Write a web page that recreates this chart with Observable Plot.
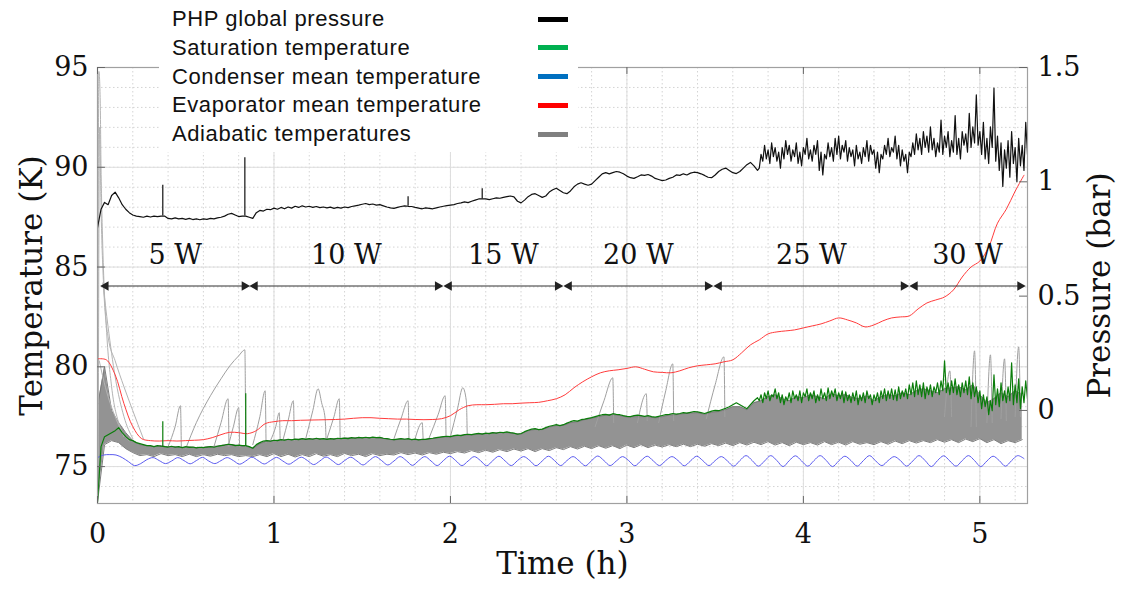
<!DOCTYPE html>
<html><head><meta charset="utf-8">
<script src="https://cdn.jsdelivr.net/npm/d3@7"></script>
<script src="https://cdn.jsdelivr.net/npm/@observablehq/plot@0.6"></script>
<style>
body{margin:0;background:#fff;}
#wrap{position:relative;width:1124px;height:596px;}
#legend{position:absolute;left:159px;top:0;width:419px;height:152px;background:#fff;font-family:"Liberation Sans",Arial,sans-serif;font-size:22px;letter-spacing:0.6px;color:#111;}
.row{position:absolute;left:13px;height:29px;line-height:29px;white-space:nowrap;}
.sw{position:absolute;left:379px;width:30px;height:5px;}
</style></head><body><div id="wrap"><div id="legend"></div></div>
<script>
// ---- ticks / axis values ----
const timeTicks = [0,1,2,3,4,5];
const tempTicks = [75,80,85,90,95];
const pressureTicks = [0,0.5,1,1.5];
const timeDomain = [0,5.27];
const tempDomain = [73.15,95];
const pressureDomain = [-0.407,1.5];

// ---- legend ----
const legendLabels = ["PHP global pressure","Saturation temperature","Condenser mean temperature","Evaporator mean temperature","Adiabatic temperatures"];
const legendColors = ["#000000","#00b050","#0070c0","#ff0000","#808080"];

// ---- power steps ----
const powerLabels = ["5 W","10 W","15 W","20 W","25 W","30 W"];
const powerStart = [0.03,0.875,1.975,2.655,3.505,4.615];
const powerEnd = [0.85,1.945,2.625,3.475,4.585,5.245];

// ---- PHP global pressure (bar): 0–3.74 h every 0.02 h ----
const coarseStep = 0.02;
const pressureBar = [
0.80,0.88,0.91,0.90,0.94,0.955,0.93,0.90,0.88,0.865,
0.855,0.85,0.848,0.845,0.85,0.846,0.85,0.848,0.85,0.85,
0.84,0.838,0.842,0.838,0.84,0.836,0.84,0.835,0.838,0.834,
0.838,0.836,0.84,0.838,0.842,0.845,0.85,0.858,0.862,0.855,
0.848,0.85,0.85,0.845,0.84,0.865,0.875,0.872,0.88,0.878,
0.885,0.88,0.888,0.882,0.89,0.885,0.893,0.888,0.895,0.89,
0.893,0.888,0.892,0.887,0.89,0.886,0.889,0.884,0.888,0.885,
0.89,0.887,0.892,0.895,0.898,0.902,0.905,0.9,0.903,0.898,
0.9,0.895,0.89,0.886,0.884,0.888,0.892,0.895,0.893,0.892,
0.888,0.885,0.882,0.886,0.884,0.882,0.886,0.89,0.893,0.896,
0.898,0.9,0.905,0.908,0.912,0.909,0.915,0.92,0.925,0.925,
0.925,0.922,0.926,0.93,0.928,0.932,0.935,0.938,0.934,0.915,
0.908,0.92,0.935,0.945,0.948,0.94,0.932,0.938,0.955,0.965,
0.972,0.962,0.952,0.948,0.96,0.978,0.99,0.996,0.99,0.985,
0.99,1.005,1.02,1.035,1.04,1.035,1.04,1.045,1.042,1.035,
1.025,1.018,1.015,1.022,1.03,1.028,1.032,1.025,1.015,1.01,
1.005,1.008,1.015,1.02,1.03,1.028,1.035,1.03,1.038,1.042,
1.04,1.035,1.028,1.02,1.018,1.03,1.045,1.055,1.06,1.05,
1.04,1.036,1.045,1.06,1.075,1.085,1.07,1.05];
// 3.75–5.27 h every 0.01 h (oscillating regime)
const fineStart = 3.75, fineStep = 0.01;
const pressureBarFine = [
1.06,1.12,1.09,1.16,1.10,1.14,1.08,1.17,1.11,1.15,
1.09,1.13,1.06,1.15,1.10,1.18,1.12,1.16,1.09,1.14,
1.11,1.17,1.08,1.13,1.07,1.15,1.12,1.19,1.10,1.14,
1.09,1.16,1.12,1.18,1.05,1.13,1.03,1.12,1.10,1.17,
1.11,1.15,1.09,1.19,1.12,1.20,1.10,1.16,1.13,1.18,
1.09,1.15,1.11,1.14,1.07,1.16,1.10,1.13,1.08,1.15,
1.11,1.18,1.09,1.16,1.12,1.14,1.06,1.13,1.04,1.12,
1.10,1.16,1.12,1.19,1.11,1.15,1.13,1.20,1.10,1.16,
1.07,1.14,1.09,1.12,1.04,1.13,1.11,1.17,1.12,1.21,
1.14,1.19,1.12,1.22,1.15,1.20,1.13,1.24,1.14,1.19,
1.11,1.17,1.13,1.27,1.12,1.20,1.15,1.22,1.11,1.18,
1.13,1.29,1.12,1.19,1.10,1.22,1.16,1.21,1.13,1.30,
1.15,1.24,1.17,1.38,1.16,1.22,1.12,1.26,1.10,1.19,
1.08,1.24,1.15,1.41,1.09,1.20,1.05,1.17,0.98,1.14,
1.06,1.18,1.02,1.22,1.08,1.15,1.00,1.19,1.07,1.16,
1.05,1.26,1.12];
// isolated pressure spikes [time h, base bar, peak bar]
const pressureSpikes = [[0.37,0.85,0.985],[0.835,0.85,1.105],[1.76,0.893,0.935],[2.18,0.925,0.97]];

// ---- Saturation temperature (K): 0–3.74 h every 0.02 h ----
const saturationT = [
73.2,76.0,76.5,76.6,76.7,76.8,76.95,76.7,76.5,76.35,
76.3,76.2,76.15,76.1,76.05,76.05,76.0,76.05,76.02,76.0,
75.98,76.02,75.97,76.0,75.95,76.0,75.96,75.98,75.94,75.97,
75.95,75.98,76.0,75.97,76.02,76.05,76.08,76.12,76.1,76.05,
76.08,76.05,76.05,76.0,75.92,76.1,76.2,76.28,76.3,76.27,
76.32,76.3,76.35,76.32,76.37,76.34,76.38,76.35,76.4,76.36,
76.4,76.37,76.42,76.38,76.4,76.36,76.4,76.38,76.42,76.4,
76.43,76.4,76.45,76.42,76.46,76.44,76.47,76.44,76.48,76.45,
76.46,76.42,76.4,76.37,76.35,76.38,76.4,76.37,76.4,76.35,
76.38,76.34,76.37,76.36,76.4,76.42,76.45,76.48,76.5,76.52,
76.5,76.55,76.58,76.55,76.6,76.62,76.6,76.64,76.66,76.63,
76.68,76.65,76.7,76.67,76.72,76.7,76.74,76.7,76.68,76.62,
76.66,76.75,76.82,76.88,76.9,76.85,76.88,76.95,77.02,77.06,
77.1,77.05,77.1,77.18,77.25,77.3,77.28,77.35,77.38,77.42,
77.45,77.5,77.55,77.6,77.62,77.58,77.65,77.62,77.6,77.55,
77.52,77.5,77.55,77.58,77.55,77.52,77.55,77.5,77.48,77.52,
77.56,77.6,77.62,77.66,77.63,77.66,77.7,77.68,77.72,77.76,
77.74,77.7,77.66,77.72,77.78,77.82,77.8,77.86,77.92,78.0,
78.1,78.2,78.1,78.0,77.9,78.1,78.3,78.45];
// 3.75–5.27 h every 0.01 h
const saturationTFine = [
78.3,78.6,78.2,78.7,78.4,78.8,78.3,78.6,78.5,78.9,
78.4,78.7,78.2,78.6,78.1,78.5,78.3,78.7,78.2,78.8,
78.4,78.6,78.3,78.8,78.2,78.7,78.5,78.9,78.3,78.7,
78.4,78.8,78.2,78.6,78.3,78.9,78.4,78.7,78.3,78.95,
78.4,78.8,78.5,78.9,78.3,78.7,78.4,78.8,78.2,78.75,
78.3,78.6,78.2,78.7,78.3,78.8,78.1,78.6,78.3,78.7,
78.2,78.8,78.4,78.6,78.1,78.6,78.3,78.7,78.2,78.8,
78.4,78.9,78.3,78.8,78.4,78.9,78.35,78.85,78.3,79.0,
78.4,78.8,78.5,78.9,78.4,79.1,78.6,79.2,78.5,79.3,
78.6,79.1,78.5,79.2,78.4,79.0,78.6,79.1,78.5,79.0,
78.7,79.2,78.6,79.3,78.8,80.3,78.7,79.2,78.6,79.3,
78.7,79.4,78.6,79.1,78.5,79.2,78.7,79.3,78.6,79.5,
78.4,79.2,78.5,79.0,78.2,78.8,77.9,78.6,78.0,78.5,
77.6,78.3,77.8,79.6,78.1,78.9,78.0,79.2,78.3,78.8,
78.2,79.0,78.3,80.2,78.1,79.1,78.2,79.4,77.9,79.0,
78.2,79.3,78.4];
const saturationSpikes = [[0.37,76.0,77.25],[0.84,76.05,78.65]];

// ---- Evaporator mean temperature (K), every 0.05 h ----
const evaporatorStep = 0.05;
const evaporatorT = [
80.4,80.35,79.6,78.15,77.0,76.4,76.3,76.28,76.3,76.28,
76.3,76.32,76.35,76.45,76.6,76.72,76.7,76.65,76.8,77.15,
77.25,77.3,77.3,77.32,77.33,77.34,77.35,77.36,77.38,77.42,
77.45,77.45,77.42,77.4,77.38,77.38,77.36,77.35,77.36,77.4,
77.55,77.85,78.05,78.1,78.1,78.12,78.15,78.15,78.18,78.2,
78.22,78.3,78.4,78.6,78.95,79.25,79.5,79.7,79.8,79.85,
79.92,80.0,79.88,79.75,79.72,79.7,79.8,79.95,80.05,80.1,
80.15,80.25,80.35,80.7,81.1,81.35,81.65,81.75,81.8,81.85,
81.95,82.05,82.15,82.3,82.45,82.35,82.2,82.0,82.1,82.3,
82.45,82.5,82.55,82.9,83.2,83.35,83.5,83.85,84.5,85.0,
85.3,86.0,87.2,87.9,88.8,89.6];

// ---- Condenser mean temperature (K), every 0.035 h ----
const condenserStep = 0.035;
const condenserT = [
75.45,75.58,75.6,75.58,75.45,75.25,75.05,75.15,75.35,75.45,
75.3,75.15,75.28,75.45, 75.3,75.14,75.3,75.46, 75.28,75.15,75.3,75.45,
75.3,75.12,75.28,75.47, 75.3,75.13,75.3,75.46, 75.28,75.12,75.3,75.47,
75.3,75.1,75.28,75.48, 75.3,75.1,75.3,75.47, 75.28,75.08,75.3,75.5,
75.3,75.08,75.28,75.5, 75.3,75.06,75.3,75.5, 75.28,75.05,75.3,75.52,
75.3,75.05,75.28,75.5, 75.3,75.04,75.3,75.52, 75.28,75.05,75.3,75.5,
75.3,75.04,75.28,75.52, 75.3,75.05,75.3,75.5, 75.28,75.04,75.3,75.53,
75.3,75.05,75.28,75.5, 75.3,75.04,75.3,75.52, 75.28,75.05,75.3,75.5,
75.3,75.04,75.28,75.52, 75.3,75.05,75.3,75.5, 75.28,75.02,75.3,75.55,
75.3,75.02,75.28,75.55, 75.3,75.0,75.3,75.54, 75.28,75.02,75.3,75.55,
75.3,75.0,75.28,75.52, 75.3,75.02,75.3,75.55, 75.28,75.05,75.3,75.5,
75.3,75.02,75.28,75.55, 75.3,75.0,75.3,75.54, 75.28,75.02,75.3,75.55,
75.3,75.0,75.28,75.52, 75.3,75.02,75.3,75.55, 75.4];

// ---- Adiabatic temperatures: envelope (K), every 0.04 h ----
const adiabaticStep = 0.04;
const adiabaticLow = [
73.2,76.1,76.3,76.2,75.9,75.7,75.55,75.6,75.5,75.65,
75.55,75.6,75.5,75.62,75.5,75.6,75.52,75.62,75.55,75.6,
75.5,75.55,75.5,75.6,75.5,75.65,75.5,75.62,75.48,75.6,
75.5,75.65,75.52,75.6,75.5,75.66,75.55,75.62,75.5,75.65,
75.55,75.62,75.58,75.7,75.6,75.68,75.58,75.7,75.62,75.72,
75.65,75.75,75.68,75.8,75.7,75.82,75.72,75.85,75.75,75.88,
75.78,75.9,75.75,75.9,75.8,75.95,75.85,76.0,75.88,76.02,
75.9,76.05,75.92,76.05,75.9,76.08,75.95,76.1,75.95,76.08,
75.98,76.1,76.0,76.12,76.0,76.12,76.02,76.15,76.05,76.18,
76.05,76.2,76.08,76.22,76.1,76.25,76.08,76.2,76.05,76.22,
76.1,76.2,76.08,76.25,76.1,76.22,76.08,76.25,76.12,76.2,
76.1,76.25,76.12,76.28,76.15,76.3,76.18,76.3,76.2,76.35,
76.22,76.35,76.2,76.38,76.25,76.4,76.2,76.35,76.15,76.3,
76.2,76.35];
const adiabaticHigh = [
78.0,80.0,77.8,77.2,76.7,76.3,76.1,76.05,76.0,76.05,
75.98,76.0,75.95,75.98,75.94,75.96,76.0,76.02,76.08,76.1,
76.05,76.02,75.92,76.15,76.28,76.3,76.33,76.35,76.36,76.38,
76.37,76.4,76.38,76.38,76.4,76.42,76.43,76.44,76.45,76.46,
76.44,76.38,76.33,76.38,76.36,76.35,76.34,76.38,76.43,76.48,
76.48,76.55,76.58,76.58,76.62,76.65,76.68,76.7,76.7,76.66,
76.62,76.8,76.86,76.85,76.98,77.05,77.06,77.2,77.25,77.35,
77.42,77.5,77.58,77.6,77.56,77.48,77.5,77.5,77.5,77.44,
77.5,77.58,77.6,77.65,77.68,77.7,77.62,77.72,77.76,77.85,
78.0,78.0,77.85,78.2,78.3,78.5,78.6,78.4,78.3,78.5,
78.45,78.6,78.5,78.4,78.65,78.55,78.6,78.45,78.4,78.55,
78.3,78.5,78.6,78.55,78.7,78.6,78.8,78.9,78.8,78.7,
78.9,78.95,79.0,78.85,79.1,78.6,78.2,78.4,78.7,78.5,
78.8,78.6];

// ---- Adiabatic temperature excursions [time h, K] ----
const adiabaticSpikes = [
 [[0.40,76.0],[0.44,77.0],[0.47,78.05],[0.475,76.0]],
 [[0.50,75.9],[0.56,77.2],[0.64,78.55],[0.70,79.4],[0.75,80.05],[0.80,80.55],[0.835,80.85],[0.84,76.0]],
 [[0.66,76.0],[0.70,77.2],[0.74,78.4],[0.745,76.0]],
 [[0.74,76.0],[0.77,77.0],[0.80,77.95],[0.805,76.0]],
 [[0.88,76.1],[0.92,77.5],[0.95,78.8],[0.955,76.2]],
 [[0.98,76.3],[1.01,77.0],[1.03,77.7],[1.035,76.3]],
 [[1.05,76.3],[1.08,77.3],[1.11,78.3],[1.115,76.3]],
 [[1.18,76.4],[1.22,77.8],[1.25,78.9],[1.27,78.2],[1.29,77.4],[1.295,76.4]],
 [[1.30,76.4],[1.34,77.5],[1.37,78.4],[1.375,76.4]],
 [[1.68,76.4],[1.72,77.4],[1.76,78.3],[1.765,76.4]],
 [[1.80,76.4],[1.84,77.2],[1.845,76.4]],
 [[1.88,76.45],[1.93,77.6],[1.97,78.55],[1.975,76.5]],
 [[2.0,76.5],[2.04,77.9],[2.07,78.95],[2.09,78.3],[2.095,76.6]],
 [[2.82,77.0],[2.87,78.3],[2.92,79.45],[2.925,77.2]],
 [[3.06,77.2],[3.11,78.65],[3.115,77.3]],
 [[3.18,77.2],[3.22,78.8],[3.26,80.15],[3.265,77.3]],
 [[3.45,77.4],[3.50,79.1],[3.55,80.5],[3.555,77.5]],
 [[4.80,77.5],[4.83,79.8],[4.84,77.5]],
 [[4.95,77.0],[4.97,80.8],[4.98,77.0]],
 [[5.04,77.2],[5.06,80.6],[5.07,77.2]],
 [[5.12,77.4],[5.14,80.4],[5.15,77.3]],
 [[5.20,77.5],[5.22,81.0],[5.23,77.5]]
];
const startTransients = [
 [[0.0,73.2],[0.008,94.8],[0.015,93.5],[0.02,90],[0.03,86],[0.05,82],[0.08,79],[0.12,77.2],[0.18,76.3]],
 [[0.004,75],[0.012,92],[0.02,88],[0.035,84],[0.06,81.5],[0.10,80.3],[0.15,79.0],[0.2,77.8],[0.26,76.4]],
 [[0.03,84.2],[0.06,82],[0.1,79.5],[0.15,77.5],[0.2,76.4]],
 [[0.01,80.3],[0.03,79.5],[0.06,78.5],[0.1,77.5],[0.15,76.5]]
];

// ---- build tables ----
const toT = p => tempDomain[0] + (p - pressureDomain[0]) * (tempDomain[1]-tempDomain[0]) / (pressureDomain[1]-pressureDomain[0]);
const fromT = T => pressureDomain[0] + (T - tempDomain[0]) * (pressureDomain[1]-pressureDomain[0]) / (tempDomain[1]-tempDomain[0]);
const pressureRows = pressureBar.map((p,i)=>({t:i*coarseStep, v:toT(p)}))
  .concat(pressureBarFine.map((p,i)=>({t:fineStart+i*fineStep, v:toT(p)})));
const saturationRows = saturationT.map((v,i)=>({t:i*coarseStep, v}))
  .concat(saturationTFine.map((v,i)=>({t:fineStart+i*fineStep, v})));
const pressureSpikeRows = pressureSpikes.map(([t,b,p])=>({t, b:toT(b), p:toT(p)}));
const saturationSpikeRows = saturationSpikes.map(([t,b,p])=>({t, b, p}));
const evaporatorRows = evaporatorT.map((v,i)=>({t:i*evaporatorStep, v}));
const condenserRows = condenserT.map((v,i)=>({t:i*condenserStep, v}));
const adiabaticRows = adiabaticLow.map((lo,i)=>({t:i*adiabaticStep, lo, hi:adiabaticHigh[i]}));
const spikeRows = adiabaticSpikes.flatMap((s,k)=>s.map(([t,v])=>({id:k,t,v})));
const transientRows = startTransients.flatMap((s,k)=>s.map(([t,v])=>({id:k,t,v})));
const powerRows = powerLabels.map((label,i)=>({label, a:powerStart[i], b:powerEnd[i], m:(powerStart[i]+powerEnd[i])/2}));
const arrowLevel = 84.05, labelLevel = 85.6;

const serif = '"DejaVu Serif", serif';
const chart = Plot.plot({
  width:1124, height:596,
  marginLeft:97, marginRight:97, marginTop:67, marginBottom:93,
  style:{fontFamily:serif, fontSize:"27px", color:"#111", background:"transparent"},
  x:{domain:timeDomain},
  y:{domain:tempDomain},
  marks:[
    Plot.gridX(d3.range(0.2,5.27,0.2), {stroke:"#d4d4d4", strokeOpacity:1, strokeDasharray:"1.5,2.5"}),
    Plot.gridY(d3.range(74,95,1), {stroke:"#d4d4d4", strokeOpacity:1, strokeDasharray:"1.5,2.5"}),
    Plot.gridX(timeTicks, {stroke:"#dedede", strokeOpacity:1}),
    Plot.gridY(tempTicks, {stroke:"#dedede", strokeOpacity:1}),
    // adiabatic envelope
    Plot.areaY(adiabaticRows, {x:"t", y1:"lo", y2:"hi", fill:"#939393", clip:true}),
    Plot.line(adiabaticRows, {x:"t", y:"lo", stroke:"#7d7d7d", strokeWidth:1, clip:true}),
    Plot.line(adiabaticRows, {x:"t", y:"hi", stroke:"#7d7d7d", strokeWidth:1, clip:true}),
    Plot.line(transientRows, {x:"t", y:"v", z:"id", stroke:"#b4b4b4", strokeWidth:1, curve:"monotone-x", clip:true}),
    Plot.line(spikeRows, {x:"t", y:"v", z:"id", stroke:"#a0a0a0", strokeWidth:1, curve:"monotone-x", clip:true}),
    // condenser
    Plot.line(condenserRows, {x:"t", y:"v", stroke:"#5b5bf0", strokeWidth:1, curve:"catmull-rom", clip:true}),
    // evaporator
    Plot.line(evaporatorRows, {x:"t", y:"v", stroke:"#ff3b3b", strokeWidth:1, curve:"catmull-rom", clip:true}),
    // saturation
    Plot.line(saturationRows, {x:"t", y:"v", stroke:"#0b7d0b", strokeWidth:1.2, clip:true}),
    Plot.ruleX(saturationSpikeRows, {x:"t", y1:"b", y2:"p", stroke:"#0b7d0b", strokeWidth:1.2}),
    // pressure
    Plot.line(pressureRows, {x:"t", y:"v", stroke:"#111", strokeWidth:1.2, clip:true}),
    Plot.ruleX(pressureSpikeRows, {x:"t", y1:"b", y2:"p", stroke:"#111", strokeWidth:1.2}),
    // frame + inward ticks
    Plot.frame({stroke:"#a0a0a0", strokeWidth:1.2}),
    Plot.ruleX(timeTicks, {x:d=>d, y1:tempDomain[0], y2:tempDomain[0]+0.35, stroke:"#666"}),
    Plot.ruleX(timeTicks, {x:d=>d, y1:tempDomain[1], y2:tempDomain[1]-0.35, stroke:"#666"}),
    Plot.ruleY(tempTicks, {y:d=>d, x1:timeDomain[0], x2:timeDomain[0]+0.045, stroke:"#666"}),
    Plot.ruleY(pressureTicks, {y:d=>toT(d), x1:timeDomain[1], x2:timeDomain[1]-0.045, stroke:"#666"}),
    // axes
    Plot.axisX(timeTicks, {tickSize:0, tickPadding:20, label:null, fontSize:27, tickFormat:d=>String(d)}),
    Plot.axisY(tempTicks, {tickSize:0, tickPadding:9, label:null, fontSize:27, tickFormat:d=>String(d)}),
    Plot.axisY(pressureTicks.map(toT), {anchor:"right", tickSize:0, tickPadding:10, label:null, fontSize:27,
      tickFormat:d=>String(Math.round(fromT(d)*10)/10)}),
    Plot.text(["Temperature (K)"], {frameAnchor:"left", textAnchor:"middle", dx:-65, rotate:-90, fontSize:31}),
    Plot.text(["Pressure (bar)"], {frameAnchor:"right", textAnchor:"middle", dx:73, rotate:-90, fontSize:31}),
    Plot.text(["Time (h)"], {frameAnchor:"bottom", dy:70, fontSize:31}),
    // power annotations
    Plot.ruleY(powerRows, {x1:"a", x2:"b", y:()=>arrowLevel, stroke:"#333", strokeWidth:1.2}),
    Plot.dot(powerRows, {x:"b", y:()=>arrowLevel, symbol:"triangle", rotate:90, r:3.6, fill:"#222", stroke:null, dx:-3}),
    Plot.dot(powerRows, {x:"a", y:()=>arrowLevel, symbol:"triangle", rotate:-90, r:3.6, fill:"#222", stroke:null, dx:3}),
    Plot.text(powerRows, {x:"m", y:()=>labelLevel, text:"label", fontSize:27})
  ]
});
const wrap = document.getElementById("wrap");
wrap.insertBefore(chart, wrap.firstChild);

const legend = document.getElementById("legend");
legendLabels.forEach((label,i)=>{
  const row = document.createElement("div");
  row.className = "row"; row.style.top = (4 + 28.75*i) + "px"; row.textContent = label;
  legend.appendChild(row);
  const sw = document.createElement("div");
  sw.className = "sw"; sw.style.top = (16.5 + 28.75*i) + "px"; sw.style.background = legendColors[i];
  legend.appendChild(sw);
});
</script></body></html>
